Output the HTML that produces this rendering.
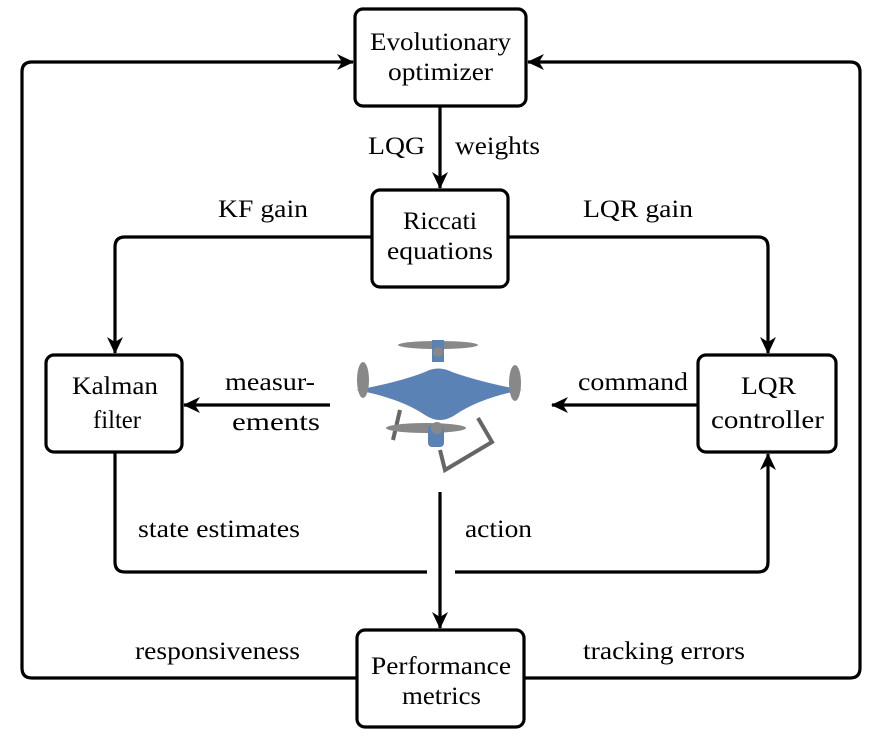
<!DOCTYPE html>
<html><head><meta charset="utf-8"><style>
body{margin:0;background:#fff}
svg text{font-family:'Liberation Serif','DejaVu Serif',serif;font-size:25px;fill:#000}
</style></head><body>
<svg width="882" height="740" viewBox="0 0 882 740" xmlns="http://www.w3.org/2000/svg">
<defs>
<marker id="b" markerWidth="18" markerHeight="16" refX="16" refY="8" orient="auto" markerUnits="userSpaceOnUse"><path d="M0,0 L17,8 L0,16 L5,8 Z" fill="#000"/></marker></defs>
<g fill="none" stroke="#000" stroke-width="3.2">
<rect x="355" y="9" width="171" height="97" rx="8"/>
<rect x="372" y="190" width="136" height="97" rx="8"/>
<rect x="46" y="355" width="136" height="97" rx="8"/>
<rect x="698" y="355" width="138" height="97" rx="8"/>
<rect x="357" y="630" width="167" height="97" rx="8"/>
<path d="M357,678 H32 Q22,678 22,668 V72 Q22,62 32,62 H353" marker-end="url(#b)"/>
<path d="M524,678 H850 Q860,678 860,668 V72 Q860,62 850,62 H528" marker-end="url(#b)"/>
<path d="M440,106 V188" marker-end="url(#b)"/>
<path d="M372,237 H125 Q115,237 115,247 V353" marker-end="url(#b)"/>
<path d="M508,237 H758 Q768,237 768,247 V353" marker-end="url(#b)"/>
<path d="M330,405 H184" marker-end="url(#b)"/>
<path d="M698,405 H552" marker-end="url(#b)"/>
<path d="M115,452 V562 Q115,572 125,572 H427"/>
<path d="M455,572 H758 Q768,572 768,562 V454" marker-end="url(#b)"/>
<path d="M440,492 V628" marker-end="url(#b)"/>
</g>
<text x="370" y="50" textLength="141" lengthAdjust="spacingAndGlyphs">Evolutionary</text>
<text x="388" y="80" textLength="105" lengthAdjust="spacingAndGlyphs">optimizer</text>
<text x="403" y="229" textLength="74" lengthAdjust="spacingAndGlyphs">Riccati</text>
<text x="387" y="259" textLength="106" lengthAdjust="spacingAndGlyphs">equations</text>
<text x="72" y="394" textLength="86" lengthAdjust="spacingAndGlyphs">Kalman</text>
<text x="93" y="428" textLength="48" lengthAdjust="spacingAndGlyphs">filter</text>
<text x="741" y="394" textLength="55" lengthAdjust="spacingAndGlyphs">LQR</text>
<text x="711" y="428" textLength="113" lengthAdjust="spacingAndGlyphs">controller</text>
<text x="371" y="674" textLength="140" lengthAdjust="spacingAndGlyphs">Performance</text>
<text x="402" y="704" textLength="79" lengthAdjust="spacingAndGlyphs">metrics</text>
<text x="368" y="154" textLength="57" lengthAdjust="spacingAndGlyphs">LQG</text>
<text x="455" y="154" textLength="85" lengthAdjust="spacingAndGlyphs">weights</text>
<text x="218" y="217" textLength="90" lengthAdjust="spacingAndGlyphs">KF gain</text>
<text x="583" y="217" textLength="110" lengthAdjust="spacingAndGlyphs">LQR gain</text>
<text x="225" y="390" textLength="90" lengthAdjust="spacingAndGlyphs">measur-</text>
<text x="232" y="430" textLength="88" lengthAdjust="spacingAndGlyphs">ements</text>
<text x="578" y="390" textLength="110" lengthAdjust="spacingAndGlyphs">command</text>
<text x="138" y="537" textLength="162" lengthAdjust="spacingAndGlyphs">state estimates</text>
<text x="465" y="537" textLength="67" lengthAdjust="spacingAndGlyphs">action</text>
<text x="135" y="659" textLength="165" lengthAdjust="spacingAndGlyphs">responsiveness</text>
<text x="583" y="659" textLength="162" lengthAdjust="spacingAndGlyphs">tracking errors</text>
<g>
<path d="M400,410 L393,440 M478,418 L492,442 L445,470 L440,450" stroke="#666" stroke-width="4" fill="none"/>
<path d="M356,390 Q400,382 425,372 Q438,365 452,372 Q480,382 522,390 Q480,398 455,415 Q440,425 425,415 Q400,398 356,390 Z" fill="#5b82b5"/>
<ellipse cx="438" cy="345" rx="40" ry="4" fill="#888"/>
<rect x="432" y="340" width="12" height="22" fill="#5b82b5"/>
<ellipse cx="363" cy="380" rx="6" ry="18" fill="#888"/>
<ellipse cx="515" cy="383" rx="6" ry="18" fill="#888"/>
<ellipse cx="426" cy="428" rx="40" ry="5" fill="#888"/>
<rect x="428" y="425" width="16" height="22" rx="4" fill="#5b82b5"/>
<circle cx="437" cy="428" r="6" fill="#888"/>
<circle cx="438" cy="352" r="5" fill="#888"/>
</g>
</svg>
</body></html>
